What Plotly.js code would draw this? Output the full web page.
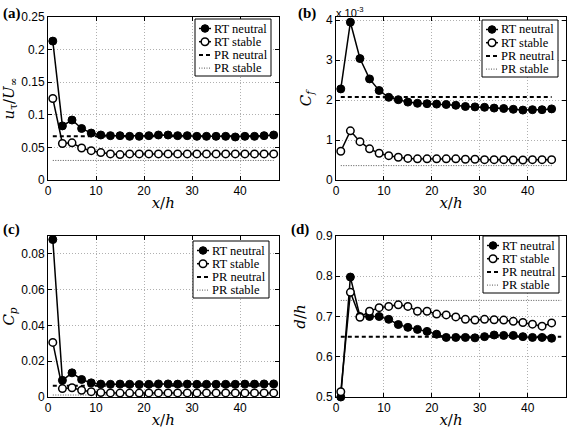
<!DOCTYPE html>
<html><head><meta charset="utf-8">
<script src="https://cdn.plot.ly/plotly-3.0.1.min.js"></script>
<style>html,body{margin:0;padding:0;background:#fff}#chart{width:568px;height:433px}</style>
</head><body><div id="chart"></div>
<script>
// ---- data ----
const xOdd47 = [1,3,5,7,9,11,13,15,17,19,21,23,25,27,29,31,33,35,37,39,41,43,45,47];
const xOdd45 = [1,3,5,7,9,11,13,15,17,19,21,23,25,27,29,31,33,35,37,39,41,43,45];

// (a) friction velocity u_tau / U_inf
const utNeutral = [0.213,0.083,0.092,0.079,0.072,0.069,0.068,0.068,0.067,0.067,0.068,0.069,0.069,0.068,0.068,0.067,0.067,0.067,0.067,0.066,0.067,0.067,0.068,0.069];
const utStable  = [0.125,0.056,0.057,0.049,0.045,0.042,0.040,0.039,0.040,0.040,0.040,0.040,0.040,0.040,0.040,0.040,0.040,0.040,0.040,0.040,0.040,0.040,0.040,0.040];
const utPR = {neutral:0.067, stable:0.030};

// (b) C_f in units of 1e-3
const cfNeutral = [2.28,3.95,3.04,2.53,2.24,2.07,2.01,1.95,1.92,1.91,1.90,1.89,1.87,1.84,1.83,1.82,1.80,1.79,1.77,1.75,1.76,1.76,1.78];
const cfStable  = [0.72,1.23,0.96,0.78,0.67,0.61,0.57,0.54,0.53,0.53,0.53,0.53,0.53,0.52,0.52,0.51,0.51,0.51,0.50,0.50,0.51,0.51,0.51];
const cfPR = {neutral:2.08, stable:0.36};

// (c) C_p
const cpNeutral = [0.088,0.0093,0.0135,0.0098,0.0079,0.0072,0.0071,0.0072,0.0071,0.0070,0.0071,0.0073,0.0073,0.0072,0.0072,0.0071,0.0071,0.0071,0.0071,0.0071,0.0072,0.0072,0.0073,0.0073];
const cpStable  = [0.0305,0.0047,0.0052,0.0038,0.0030,0.0025,0.0023,0.0022,0.0022,0.0022,0.0023,0.0023,0.0023,0.0023,0.0023,0.0023,0.0023,0.0023,0.0023,0.0023,0.0023,0.0023,0.0023,0.0023];
const cpPR = {neutral:0.0063, stable:0.0011};

// (d) displacement height d/h
const dNeutral = [0.500,0.798,0.700,0.700,0.700,0.693,0.680,0.673,0.668,0.663,0.656,0.648,0.648,0.648,0.647,0.650,0.654,0.653,0.653,0.650,0.648,0.648,0.646];
const dStable  = [0.513,0.760,0.698,0.713,0.722,0.725,0.729,0.725,0.713,0.713,0.706,0.704,0.699,0.693,0.691,0.693,0.692,0.691,0.688,0.685,0.681,0.676,0.684];
const dPR = {neutral:0.650, stable:0.740};

const legendNames = ['RT neutral','RT stable','PR neutral','PR stable'];

// ---- styles ----
const W = 568, H = 433;
const px = v => v / W, py = v => 1 - v / H;
const SERIF = 'Liberation Serif';
const SERIF_IT = 'DejaVu Serif';
const SANS = 'Liberation Sans';
const styleNeutral = {line:{color:'#000', width:1.5}, marker:{symbol:'circle', size:8, color:'#000', line:{color:'#000', width:1}}};
const styleStable  = {line:{color:'#000', width:1.5}, marker:{symbol:'circle', size:7.5, color:'#fff', line:{color:'#000', width:1.5}}};
const styleDash = {color:'#000', width:2, dash:'4px,3px'};
const styleDot  = {color:'#555', width:1, dash:'1px,1.5px'};

// ---- build traces ----
function panel(k, x, neu, sta, pr, prX) {
  const xa = k === 1 ? 'x' : 'x' + k, ya = k === 1 ? 'y' : 'y' + k;
  return [
    {x:prX, y:[pr.neutral, pr.neutral], xaxis:xa, yaxis:ya, name:legendNames[2], mode:'lines', line:styleDash},
    {x:prX, y:[pr.stable, pr.stable], xaxis:xa, yaxis:ya, name:legendNames[3], mode:'lines', line:styleDot},
    Object.assign({x:x, y:neu, xaxis:xa, yaxis:ya, name:legendNames[0], mode:'lines+markers', cliponaxis:false}, styleNeutral),
    Object.assign({x:x, y:sta, xaxis:xa, yaxis:ya, name:legendNames[1], mode:'lines+markers', cliponaxis:false}, styleStable)
  ];
}
const traces = [].concat(
  panel(1, xOdd47, utNeutral, utStable, utPR, [1,47]),
  panel(2, xOdd45, cfNeutral, cfStable, cfPR, [1,45]),
  panel(3, xOdd47, cpNeutral, cpStable, cpPR, [1,47]),
  panel(4, xOdd45, dNeutral, dStable, dPR, [1,47])
);

// ---- legend boxes (MATLAB-style, compact) ----
const shapes = [], annotations = [];
function legendBox(L, T) {
  const w = 76, h = 57;
  shapes.push({type:'rect', xref:'paper', yref:'paper', layer:'above', x0:px(L), x1:px(L+w), y0:py(T), y1:py(T+h),
    line:{color:'#000', width:1}, fillcolor:'#fff'});
  for (let i = 0; i < 4; i++) {
    const yc = T + 9.5 + i * 13.2;
    const ln = i < 2 ? {color:'#000', width:1.5} : (i === 2 ? styleDash : styleDot);
    shapes.push({type:'line', xref:'paper', yref:'paper', layer:'above', x0:px(L+4), x1:px(L+16), y0:py(yc), y1:py(yc), line:ln});
    if (i < 2) {
      const r = 3.8;
      shapes.push({type:'circle', xref:'paper', yref:'paper', layer:'above', x0:px(L+10-r), x1:px(L+10+r), y0:py(yc+r), y1:py(yc-r),
        fillcolor: i === 0 ? '#000' : '#fff', line:{color:'#000', width: i === 0 ? 1 : 1.5}});
    }
    annotations.push({text:legendNames[i], xref:'paper', yref:'paper', x:px(L+16.5), y:py(yc), xanchor:'left', yanchor:'middle',
      showarrow:false, font:{family:SERIF, size:12.5, color:'#000'}});
  }
}
legendBox(195, 19);
legendBox(482, 20);
legendBox(193, 241);
legendBox(483, 236);

// ---- layout ----
const colL = [48/W, 278.5/W], colR = [336/W, 566/W];
const rowT = [(H-180)/H, (H-17)/H], rowB = [(H-397)/H, (H-236)/H];
const tickFont = {family:SANS, size:12, color:'#000'};
const titleFont = {family:SERIF_IT, size:15, color:'#000'};
function axis(extra) {
  return Object.assign({
    showline:true, linecolor:'#000', linewidth:1, mirror:'allticks',
    ticks:'inside', ticklen:4, tickcolor:'#000', tickwidth:1,
    showgrid:true, gridcolor:'#b0b0b0', griddash:'1px,2px', gridwidth:1,
    zeroline:false, tickfont:tickFont, automargin:false
  }, extra);
}
const xt = {text:'<i>x</i>/<i>h</i>', font:titleFont, standoff:0};
const labelFont = {family:SERIF, size:15, color:'#000'};
annotations.push(
  {text:'<b>(a)</b>', x:px(1), y:py(13), xref:'paper', yref:'paper', xanchor:'left', yanchor:'middle', showarrow:false, font:labelFont},
  {text:'<b>(b)</b>', x:px(296), y:py(13), xref:'paper', yref:'paper', xanchor:'left', yanchor:'middle', showarrow:false, font:labelFont},
  {text:'<b>(c)</b>', x:px(1), y:py(229), xref:'paper', yref:'paper', xanchor:'left', yanchor:'middle', showarrow:false, font:labelFont},
  {text:'<b>(d)</b>', x:px(289), y:py(229), xref:'paper', yref:'paper', xanchor:'left', yanchor:'middle', showarrow:false, font:labelFont},
  {text:'x 10<sup>-3</sup>', x:px(334), y:py(12), xref:'paper', yref:'paper', xanchor:'left', yanchor:'middle', showarrow:false, font:{family:SANS, size:11, color:'#000'}}
);
const layout = {
  width:W, height:H, margin:{l:0, r:0, t:0, b:0}, paper_bgcolor:'#fff', plot_bgcolor:'#fff', showlegend:false,
  xaxis:  axis({domain:colL, anchor:'y',  range:[0,48], dtick:10, title:xt}),
  yaxis:  axis({domain:rowT, anchor:'x',  range:[0,0.25], dtick:0.05,
          title:{text:'<i>u</i><sub>τ</sub>/<i>U</i><sub>∞</sub>', font:titleFont, standoff:6}}),
  xaxis2: axis({domain:colR, anchor:'y2', range:[0,48], dtick:10, title:xt}),
  yaxis2: axis({domain:rowT, anchor:'x2', range:[0,4.08], dtick:1,
          title:{text:'<i>C</i><sub><i>f</i></sub>', font:titleFont, standoff:10}}),
  xaxis3: axis({domain:colL, anchor:'y3', range:[0,48], dtick:10, title:xt}),
  yaxis3: axis({domain:rowB, anchor:'x3', range:[0,0.09], dtick:0.02,
          title:{text:'<i>C</i><sub><i>p</i></sub>', font:titleFont, standoff:6}}),
  xaxis4: axis({domain:colR, anchor:'y4', range:[0,48], dtick:10, title:xt}),
  yaxis4: axis({domain:rowB, anchor:'x4', range:[0.5,0.9], dtick:0.1,
          title:{text:'<i>d</i>/<i>h</i>', font:titleFont, standoff:6}}),
  shapes:shapes,
  annotations:annotations
};
Plotly.newPlot('chart', traces, layout, {displayModeBar:false, staticPlot:true});
</script>
</body></html>
